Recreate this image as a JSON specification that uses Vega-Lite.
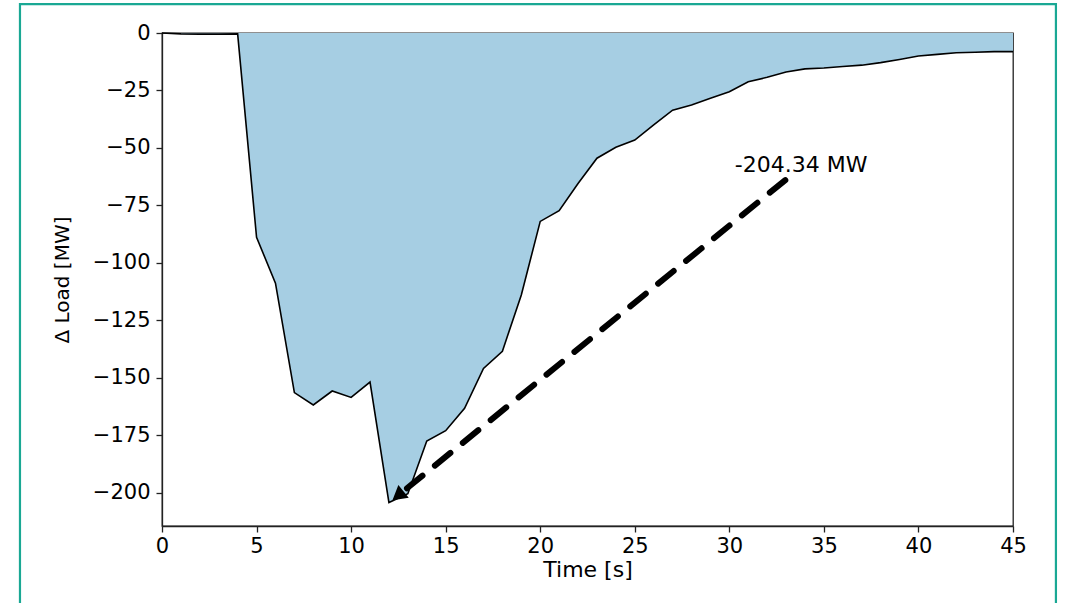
{
  "$schema": "https://vega.github.io/schema/vega-lite/v6.json",
  "width": 851,
  "height": 493,
  "autosize": {"type": "none"},
  "padding": {"left": 162, "top": 33, "right": 55, "bottom": 77},
  "background": "white",
  "config": {
    "font": "DejaVu Sans",
    "view": {"stroke": "#222222", "strokeWidth": 1.3},
    "axis": {
      "domainColor": "#222222",
      "domainWidth": 1.3,
      "tickColor": "#222222",
      "tickWidth": 1.3,
      "tickSize": 6,
      "labelColor": "#000000",
      "labelFontSize": 21,
      "labelFont": "DejaVu Sans",
      "titleFont": "DejaVu Sans",
      "titleFontSize": 20,
      "titleFontWeight": "normal",
      "titleColor": "#000000",
      "grid": false,
      "labelFlush": false,
      "labelOverlap": false
    }
  },
  "datasets": {
    "load": [
      {"t": 0, "dP": 0},
      {"t": 1, "dP": -0.4},
      {"t": 2, "dP": -0.5},
      {"t": 3, "dP": -0.5},
      {"t": 4, "dP": -0.4},
      {"t": 5, "dP": -88.9},
      {"t": 6, "dP": -108.9},
      {"t": 7, "dP": -156.5},
      {"t": 8, "dP": -161.9},
      {"t": 9, "dP": -155.8},
      {"t": 10, "dP": -158.6},
      {"t": 11, "dP": -151.9},
      {"t": 12, "dP": -204.34},
      {"t": 13, "dP": -200.5},
      {"t": 14, "dP": -177.6},
      {"t": 15, "dP": -173.1},
      {"t": 16, "dP": -163.3},
      {"t": 17, "dP": -146},
      {"t": 18, "dP": -138.5},
      {"t": 19, "dP": -114},
      {"t": 20, "dP": -82},
      {"t": 21, "dP": -77.3},
      {"t": 22, "dP": -65.5},
      {"t": 23, "dP": -54.5},
      {"t": 24, "dP": -49.7},
      {"t": 25, "dP": -46.6},
      {"t": 26, "dP": -40},
      {"t": 27, "dP": -33.6},
      {"t": 28, "dP": -31.3},
      {"t": 29, "dP": -28.4},
      {"t": 30, "dP": -25.6},
      {"t": 31, "dP": -21.2},
      {"t": 32, "dP": -19.3},
      {"t": 33, "dP": -17},
      {"t": 34, "dP": -15.6},
      {"t": 35, "dP": -15.2},
      {"t": 36, "dP": -14.6},
      {"t": 37, "dP": -14},
      {"t": 38, "dP": -12.9},
      {"t": 39, "dP": -11.5},
      {"t": 40, "dP": -10},
      {"t": 41, "dP": -9.3},
      {"t": 42, "dP": -8.6},
      {"t": 43, "dP": -8.4},
      {"t": 44, "dP": -8.1},
      {"t": 45, "dP": -8.1}
    ],
    "arrow": [
      {"t": 32.96, "dP": -64.0, "t2": 12.5, "dP2": -201.2}
    ],
    "head": [
      {"t": 12.5, "dP": -201.3}
    ],
    "note": [
      {"t": 33.8, "dP": -60.5, "label": "-204.34 MW"}
    ]
  },
  "layer": [
    {
      "data": {"name": "load"},
      "mark": {"type": "area", "fill": "#a6cee3", "opacity": 1, "stroke": null},
      "encoding": {
        "x": {
          "field": "t",
          "type": "quantitative",
          "title": "Time [s]",
          "scale": {"domain": [0, 45], "nice": false, "zero": false},
          "axis": {"values": [0, 5, 10, 15, 20, 25, 30, 35, 40, 45], "format": "d", "labelPadding": 3, "titlePadding": 3, "titleFontSize": 22}
        },
        "y": {
          "field": "dP",
          "type": "quantitative",
          "title": "Δ Load [MW]",
          "scale": {"domain": [-214.56, 0], "nice": false, "zero": false},
          "axis": {"values": [0, -25, -50, -75, -100, -125, -150, -175, -200], "format": "d", "labelPadding": 6, "titlePadding": 20}
        },
        "y2": {"datum": 0}
      }
    },
    {
      "data": {"name": "load"},
      "mark": {"type": "line", "color": "#000000", "strokeWidth": 1.6},
      "encoding": {
        "x": {"field": "t", "type": "quantitative"},
        "y": {"field": "dP", "type": "quantitative"}
      }
    },
    {
      "data": {"name": "arrow"},
      "mark": {"type": "rule", "color": "#000000", "strokeWidth": 6, "strokeDash": [20, 16], "strokeCap": "round"},
      "encoding": {
        "x": {"field": "t", "type": "quantitative"},
        "y": {"field": "dP", "type": "quantitative"},
        "x2": {"field": "t2"},
        "y2": {"field": "dP2"}
      }
    },
    {
      "data": {"name": "head"},
      "mark": {"type": "point", "shape": "triangle-up", "filled": true, "color": "#000000", "opacity": 1, "size": 170, "angle": 231, "strokeWidth": 2, "stroke": "#000000"},
      "encoding": {
        "x": {"field": "t", "type": "quantitative"},
        "y": {"field": "dP", "type": "quantitative"}
      }
    },
    {
      "data": {"name": "note"},
      "mark": {"type": "text", "align": "center", "baseline": "alphabetic", "fontSize": 22, "font": "DejaVu Sans", "color": "#000000"},
      "encoding": {
        "x": {"field": "t", "type": "quantitative"},
        "y": {"field": "dP", "type": "quantitative"},
        "text": {"field": "label"}
      }
    },
    {
      "data": {"values": [{}]},
      "mark": {"type": "rect", "fill": null, "filled": false, "stroke": "#1aa894", "strokeWidth": 2.2, "clip": false},
      "encoding": {
        "x": {"datum": -7.51},
        "x2": {"datum": 47.27},
        "y": {"datum": 12.6},
        "y2": {"datum": -260}
      }
    }
  ]
}
